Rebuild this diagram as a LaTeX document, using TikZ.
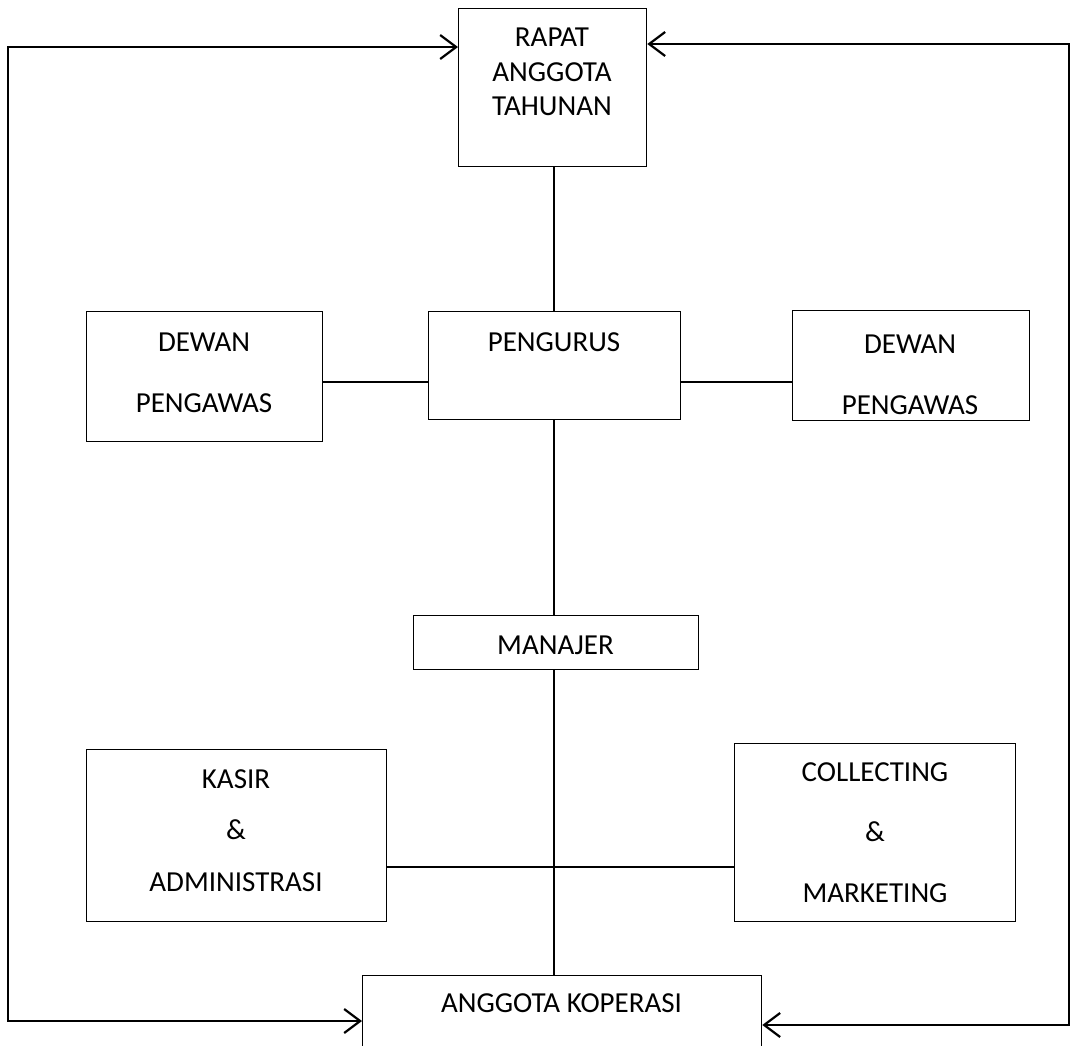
\documentclass[tikz,border=0pt]{standalone}
\usepackage{fontspec}
\setmainfont{Carlito}
\usetikzlibrary{arrows.meta}
\begin{document}
\begin{tikzpicture}[x=1pt,y=-1pt,
  box/.style={draw=black,line width=1.3pt,rectangle,inner sep=0pt,anchor=north west},
  txt/.style={inner sep=0pt,align=center,font=\fontsize{29}{34.5}\selectfont},
  wide/.style={inner sep=0pt,align=center,font=\fontsize{29}{61}\selectfont},
  conn/.style={line width=2pt,line cap=rect},
  loop/.style={line width=2.4pt,line join=miter,
    {Straight Barb[length=16pt,width=24pt,line width=2.2pt]}-{Straight Barb[length=16pt,width=24pt,line width=2.2pt]}}]
\useasboundingbox (0,0) rectangle (1074,1045);
\clip (0,0) rectangle (1074,1045);
\fill[white] (0,0) rectangle (1074,1045);
% boxes
\node[box,minimum width=188pt,minimum height=158pt] (rat) at (458,8) {};
\node[box,minimum width=252pt,minimum height=108pt] (pen) at (428,311) {};
\node[box,minimum width=236pt,minimum height=130pt] (dpl) at (86,311) {};
\node[box,minimum width=237pt,minimum height=110pt] (dpr) at (792,310) {};
\node[box,minimum width=285pt,minimum height=54pt] (man) at (413,615) {};
\node[box,minimum width=300pt,minimum height=172pt] (kas) at (86,749) {};
\node[box,minimum width=281pt,minimum height=178pt] (col) at (734,743) {};
\node[box,minimum width=399pt,minimum height=100pt] (ang) at (362,975) {};
% texts
\node[txt] (rat-t) at (552,72) {RAPAT\\ANGGOTA\\TAHUNAN};
\node[txt] (pen-t) at (554,342) {PENGURUS};
\node[wide] (dpl-t) at (204,372.5) {DEWAN\\PENGAWAS};
\begin{scope}
\clip (dpr.north west) rectangle (dpr.south east);
\node[wide] (dpr-t) at (910,375) {DEWAN\\PENGAWAS};
\end{scope}
\node[txt] (man-t) at (555.5,645) {MANAJER};
\node[txt,font=\fontsize{29}{51.5}\selectfont] (kas-t) at (236,830.5) {KASIR\\\&\\ADMINISTRASI};
\node[txt,font=\fontsize{29}{60.5}\selectfont] (col-t) at (875,832.5) {COLLECTING\\\&\\MARKETING};
\node[txt] (ang-t) at (561.5,1003) {ANGGOTA KOPERASI};
% helper coordinates
\coordinate (xc) at (554,0);
\coordinate (ym) at (0,381.5);
\coordinate (yk) at (0,867);
\coordinate (yt1) at (0,47);
\coordinate (yt2) at (0,44);
\coordinate (yb1) at (0,1021);
\coordinate (yb2) at (0,1025);
\coordinate (xl) at (8,0);
\coordinate (xr) at (1069,0);
% connectors
\draw[conn,line cap=butt] (xc |- rat.south) -- (xc |- pen.north);
\draw[conn,line cap=butt] (xc |- pen.south) -- (xc |- man.north);
\draw[conn,line cap=butt] (xc |- man.south) -- (xc |- ang.north);
\draw[conn,line cap=butt] (ym -| dpl.east) -- (ym -| pen.west);
\draw[conn,line cap=butt] (ym -| pen.east) -- (ym -| dpr.west);
\draw[conn,line cap=butt] (yk -| kas.east) -- (yk -| col.west);
% feedback loops
\draw[loop] (yt1 -| rat.west) -- (yt1 -| xl) -- (yb1 -| xl) -- (yb1 -| ang.west);
\draw[loop] (yt2 -| rat.east) -- (yt2 -| xr) -- (yb2 -| xr) -- (yb2 -| ang.east);
\end{tikzpicture}
\end{document}
